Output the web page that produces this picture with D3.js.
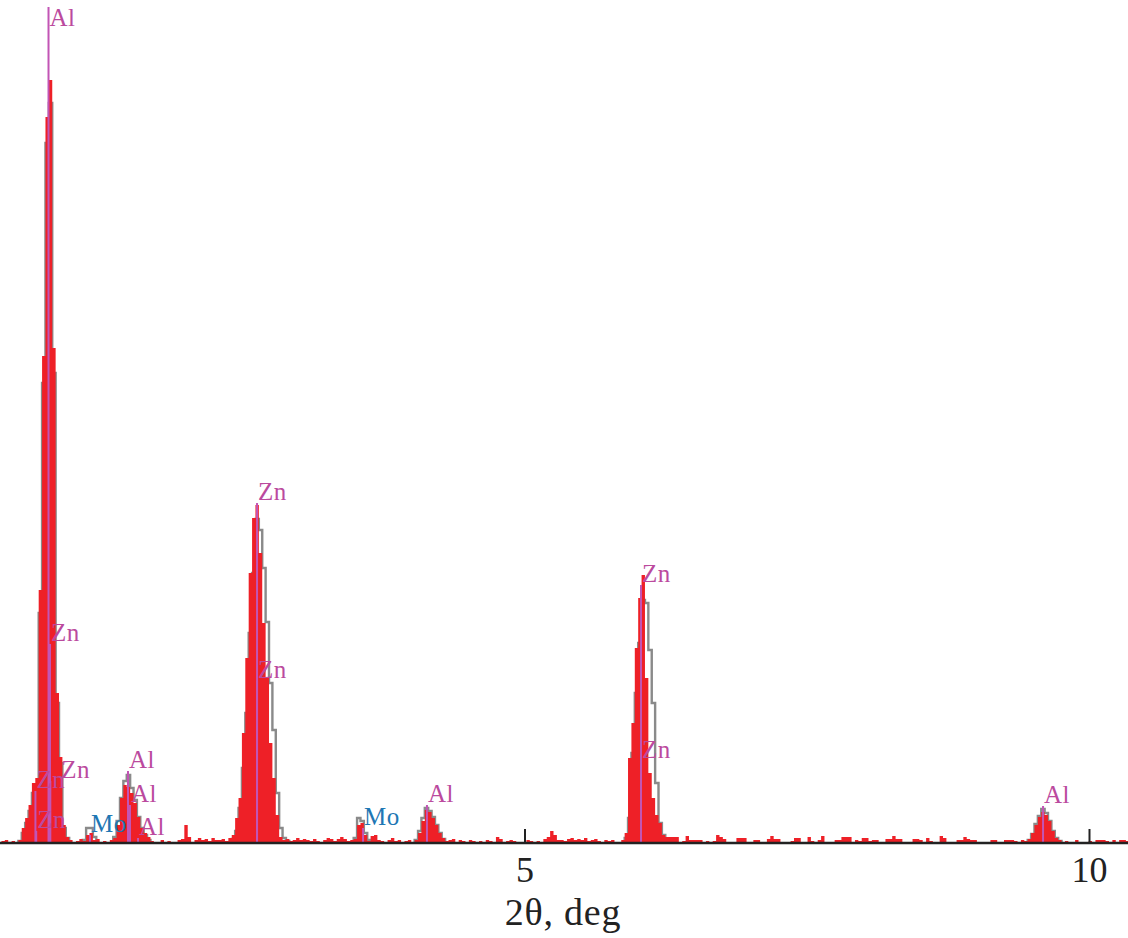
<!DOCTYPE html>
<html>
<head>
<meta charset="utf-8">
<script src="https://cdn.jsdelivr.net/npm/d3@7"></script>
<style>
body { margin: 0; background: #fff; }
svg text { font-family: "Liberation Serif", "Times New Roman", serif; }
</style>
</head>
<body>
<div id="chart"></div>
<script>
// bins of the measured spectrum (2theta, deg)
var binStart = 0.367,
    binWidth = 0.03;

// measured counts, one per bin
var observed = [
    2, 3, 0, 2, 0, 3, 15, 25, 38, 60,
    65, 253, 487, 726, 763, 495, 150, 86, 18, 6,
    3, 0, 2, 4, 2, 8, 10, 3, 4, 0,
    2, 0, 3, 5, 18, 45, 58, 56, 50, 40,
    26, 15, 10, 6, 2, 0, 0, 3, 0, 2,
    0, 0, 3, 4, 18, 6, 0, 3, 5, 3,
    4, 2, 5, 3, 3, 4, 2, 5, 8, 25,
    45, 110, 185, 270, 325, 338, 290, 220, 165, 100,
    65, 28, 6, 3, 4, 2, 3, 5, 3, 4,
    3, 2, 4, 2, 0, 3, 5, 4, 2, 4,
    6, 4, 2, 3, 4, 18, 20, 8, 2, 7,
    8, 3, 2, 0, 3, 5, 2, 3, 0, 2,
    3, 0, 3, 10, 22, 33, 31, 25, 18, 10,
    5, 2, 3, 4, 0, 3, 2, 0, 3, 2,
    0, 2, 0, 3, 2, 0, 6, 4, 0, 2,
    3, 2, 0, 0, 0, 3, 2, 0, 2, 0,
    4, 6, 12, 8, 3, 3, 2, 4, 5, 3,
    4, 3, 5, 2, 3, 4, 2, 0, 3, 2,
    3, 0, 0, 3, 10, 85, 120, 195, 245, 268,
    165, 70, 45, 28, 20, 8, 6, 6, 6, 6,
    0, 2, 7, 3, 3, 3, 3, 0, 2, 0,
    2, 8, 6, 4, 0, 0, 0, 5, 5, 5,
    0, 0, 3, 3, 0, 0, 4, 7, 4, 4,
    0, 0, 0, 2, 5, 5, 0, 0, 6, 2,
    0, 3, 7, 0, 0, 0, 3, 3, 6, 6,
    6, 0, 3, 2, 5, 5, 2, 3, 3, 0,
    0, 4, 4, 7, 4, 4, 0, 0, 0, 4,
    4, 3, 0, 5, 2, 0, 0, 7, 5, 0,
    0, 0, 3, 3, 6, 4, 3, 3, 0, 0,
    0, 0, 3, 3, 0, 0, 3, 3, 3, 2,
    0, 3, 2, 4, 10, 18, 26, 31, 28, 22,
    12, 5, 3, 0, 2, 0, 0, 3, 0, 0,
    0, 2, 0, 3, 3, 3, 2, 0, 3, 0,
    3, 3, 2
];

// calculated (fitted) profile, only around the peaks
var calcStartBin = [5, 24, 33, 68, 104, 122, 184, 303];
var calcCounts = [
    [2, 10, 20, 32, 50, 58, 230, 460, 700, 740, 470, 140, 80, 15, 5],
    [3, 15, 15, 6],
    [6, 22, 45, 62, 68, 55, 43, 26, 15, 8, 3],
    [4, 12, 35, 75, 130, 210, 270, 324, 313, 275, 221, 160, 113, 50, 15, 5, 2],
    [5, 25, 22, 10, 3],
    [3, 12, 25, 35, 32, 26, 18, 10, 4],
    [5, 25, 90, 150, 200, 243, 240, 193, 140, 60, 20, 8, 3],
    [3, 9, 19, 27, 34, 30, 22, 12, 5, 2]
];

// line markers
var markerElement = ["Al", "Zn", "Zn", "Zn", "Zn", "Mo", "Al", "Al", "Al", "Zn", "Zn", "Mo", "Al", "Zn", "Zn", "Al"];
var markerTheta   = [0.784, 0.797, 0.668, 0.675, 0.800, 1.151, 1.488, 1.506, 1.577, 2.631, 2.631, 3.570, 4.136, 6.032, 6.032, 9.593];
var markerHeight  = [836, 199, 52, 12, 62, 8, 72, 38, 5, 340, 162, 15, 38, 258, 82, 37];

var xTicks = [5, 10];
var xTitle = "2\u03b8, deg";

//---------- drawing
var width = 1128, height = 938, baseY = 843;

var svg = d3.select("#chart").append("svg")
    .attr("width", width)
    .attr("height", height);

var x = d3.scaleLinear().domain([0, 10]).range([-40, 1089]);
var y = d3.scaleLinear().domain([0, 843]).range([baseY, 0]);

function binEdge(i) { return binStart + i * binWidth; }

//Calculated profile (grey steps), drawn under the measured bars
var calcLine = d3.line()
    .curve(d3.curveStepAfter)
    .x(function (d) { return x(d.t); })
    .y(function (d) { return y(d.v); });

calcCounts.forEach(function (vals, k) {
    var s = calcStartBin[k];
    var pts = [{t: binEdge(s), v: 0}];
    vals.forEach(function (v, j) { pts.push({t: binEdge(s + j), v: v}); });
    pts.push({t: binEdge(s + vals.length), v: vals[vals.length - 1]});
    pts.push({t: binEdge(s + vals.length), v: 0});
    svg.append("path")
        .attr("d", calcLine(pts))
        .attr("fill", "none")
        .attr("stroke", "#8a8a8a")
        .attr("stroke-width", 2.4);
});

//Measured spectrum as one step area
var obsPts = observed.map(function (v, i) { return {t: binEdge(i), v: v}; });
obsPts.push({t: binEdge(observed.length), v: observed[observed.length - 1]});

var obsArea = d3.area()
    .curve(d3.curveStepAfter)
    .x(function (d) { return x(d.t); })
    .y0(y(0))
    .y1(function (d) { return y(d.v); });

svg.append("path")
    .attr("d", obsArea(obsPts))
    .attr("fill", "#ee2027");

//Markers + labels
var labelShift = {4: 10}; // keep this Zn label clear of its neighbour
var markers = markerElement.map(function (el, i) {
    return {el: el, t: markerTheta[i], h: markerHeight[i], i: i};
});

svg.append("g").selectAll("line")
    .data(markers)
    .enter().append("line")
    .attr("x1", function (d) { return x(d.t); })
    .attr("x2", function (d) { return x(d.t); })
    .attr("y1", y(0))
    .attr("y2", function (d) { return y(d.h); })
    .attr("stroke", "#c255b5")
    .attr("stroke-width", 2);

svg.append("g").selectAll("text")
    .data(markers)
    .enter().append("text")
    .attr("x", function (d) { return x(d.t) + 1 + (labelShift[d.i] || 0); })
    .attr("y", function (d) { return Math.max(y(d.h) - 3, 26); })
    .attr("font-size", 25)
    .attr("letter-spacing", 0.5)
    .attr("fill", function (d) { return d.el === "Mo" ? "#1f77b4" : "#bb4a9e"; })
    .text(function (d) { return d.el; });

//Axis
var axis = d3.axisBottom(x)
    .tickValues(xTicks)
    .tickSizeInner(-14)
    .tickSizeOuter(0)
    .tickFormat(d3.format("d"));

var gAxis = svg.append("g")
    .attr("transform", "translate(0," + baseY + ")")
    .call(axis);

gAxis.select(".domain").remove();
gAxis.append("line")
    .attr("x1", 0).attr("x2", width)
    .attr("stroke", "#222")
    .attr("stroke-width", 2.5);
gAxis.selectAll(".tick line").attr("stroke", "#222").attr("stroke-width", 2);
gAxis.selectAll(".tick text")
    .attr("dy", null)
    .attr("y", 39)
    .attr("fill", "#222")
    .attr("font-size", 36)
    .attr("font-family", "Liberation Serif, serif");

svg.append("text")
    .attr("x", 563)
    .attr("y", 925)
    .attr("text-anchor", "middle")
    .attr("font-size", 38)
    .attr("letter-spacing", 0.8)
    .attr("fill", "#222")
    .text(xTitle);
</script>
</body>
</html>
